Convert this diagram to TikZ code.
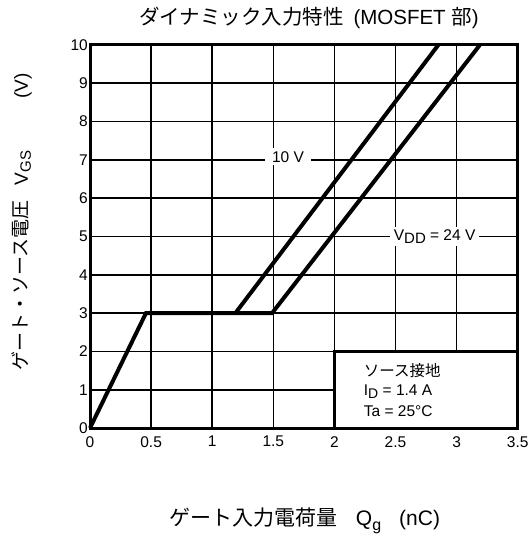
\documentclass[tikz,border=0pt]{standalone}
\usepackage{fontspec}
\setmainfont{Liberation Sans}
\newfontfamily\jp{Noto Sans CJK JP}
\begin{document}
\begin{tikzpicture}[x=1pt,y=1pt,
  grid/.style={line width=1.6pt,black},
  frame/.style={line width=3pt,black},
  curve/.style={line width=4pt,black,line join=miter},
  tick/.style={font=\fontsize{15.5}{15.5}\selectfont,inner sep=0pt},
  lab/.style={font=\fontsize{15.5}{15.5}\selectfont,fill=white,inner ysep=3pt}]
\fill[white] (0,-540) rectangle (528,0);
\useasboundingbox (0,-540) rectangle (528,0);
% title
\node[font=\fontsize{20.5}{20.5}\selectfont] (title) at (309,-18) {{\jp ダイナミック入力特性}\hspace{4pt} (MOSFET {\jp 部})};
% axis labels
\node[rotate=90,font=\fontsize{19}{19}\selectfont] (ylab) at (22,-222)
  {{\jp ゲート・ソース電圧}\hspace{15pt}V\raisebox{-3pt}{\fontsize{15}{15}\selectfont GS}\hspace{52pt}(V)};
\node[font=\fontsize{21}{21}\selectfont] (xlab) at (305,-521)
  {{\jp ゲート入力電荷量}\hspace{18pt}Q\raisebox{-5pt}{\fontsize{16}{16}\selectfont g}\hspace{18pt}(nC)};
\begin{scope}[shift={(90pt,-428pt)},x=122.2pt,y=38.3pt]
  \foreach \q in {0.5,1,1.5,2,2.5,3} \draw[grid] (\q,0) -- (\q,10);
  \foreach \v in {1,...,9} \draw[grid] (0,\v) -- (3.5,\v);
  % legend box
  \draw[frame,fill=white] (2,0) rectangle (3.5,2);
  \node[anchor=west,font=\fontsize{15.5}{15.5}\selectfont,inner sep=0pt] (leg1) at (2.24,1.51) {\jp ソース接地};
  \node[anchor=west,font=\fontsize{15.5}{15.5}\selectfont,inner sep=0pt] (leg2) at (2.24,0.94) {I\raisebox{-3pt}{\fontsize{14}{14}\selectfont D} = 1.4 A};
  \node[anchor=west,font=\fontsize{15.5}{15.5}\selectfont,inner sep=0pt] (leg3) at (2.24,0.44) {Ta = 25°C};
  % curves
  \draw[curve] (0,0) -- (0.458,3) -- (1.49,3) -- (3.19,10);
  \draw[curve] (1.19,3) -- (2.85,10);
  % curve labels
  \node[lab,inner xsep=7pt] (l10) at (1.62,7.08) {10 V};
  \node[lab,inner xsep=4pt] (lvdd) at (2.82,5.0) {V\raisebox{-3pt}{\fontsize{15}{15}\selectfont DD} = 24 V};
  % frame
  \draw[frame] (0,0) rectangle (3.5,10);
  % tick labels
  \foreach \v in {0,...,10} \node[tick,anchor=east] (yt\v) at ([xshift=-2pt]0,\v) {\v};
  \foreach \q [count=\i] in {0,0.5,1,1.5,2,2.5,3,3.5}
    \node[tick,anchor=north] (xt\i) at ([yshift=-8pt]\q,0) {\q};
\end{scope}
\end{tikzpicture}
\end{document}
